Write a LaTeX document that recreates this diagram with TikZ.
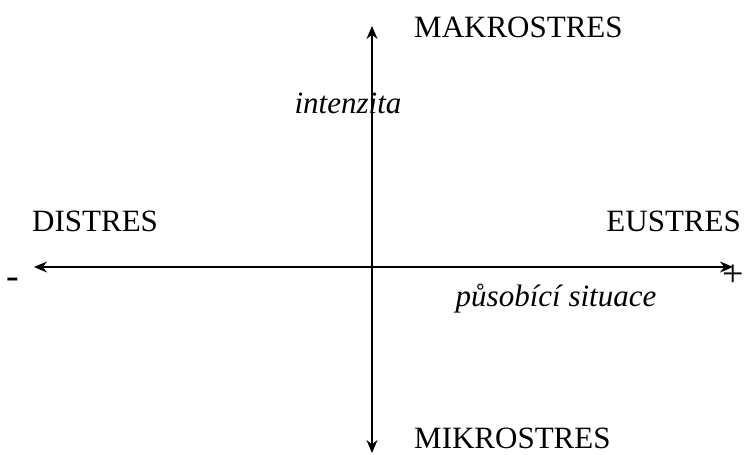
\documentclass[tikz,border=0pt]{standalone}
\usepackage{fontspec}
\setmainfont{Liberation Serif}
\usetikzlibrary{arrows.meta}
\begin{document}
\begin{tikzpicture}[x=1pt,y=-1pt,
  lbl/.style={inner sep=0pt,font=\fontsize{31}{31}\selectfont},
  ilbl/.style={inner sep=0pt,font=\fontsize{31}{31}\selectfont\itshape},
  sign/.style={inner sep=0pt,font=\fontsize{38}{38}\selectfont},
  axis/.style={line width=1.5pt,-{Stealth[length=13pt,width=11pt]}}]
\useasboundingbox (0,0) rectangle (745,455);
\coordinate (o) at (372,267);
\coordinate (top) at (372,26);
\coordinate (bot) at (372,453);
\coordinate (left) at (34,267);
\coordinate (right) at (733,267);
\draw[axis] (o) -- (top);
\draw[axis] (o) -- (bot);
\draw[axis] (o) -- (left);
\draw[axis] (o) -- (right);
\node[lbl,anchor=base west] (mak) at (414,37) {MAKROSTRES};
\node[lbl,anchor=base west] (mik) at (414,448) {MIKROSTRES};
\node[lbl,anchor=base west] (dis) at (32,231) {DISTRES};
\node[lbl,anchor=base east] (eus) at (741,231) {EUSTRES};
\node[ilbl,anchor=base] (int) at (348,113) {intenzita};
\node[ilbl,anchor=base] (pus) at (556,306) {působící situace};
\node[sign,anchor=center] (minus) at (13,283) {-};
\node[sign,anchor=east] (plus) at (744.5,276) {+};
\end{tikzpicture}
\end{document}
